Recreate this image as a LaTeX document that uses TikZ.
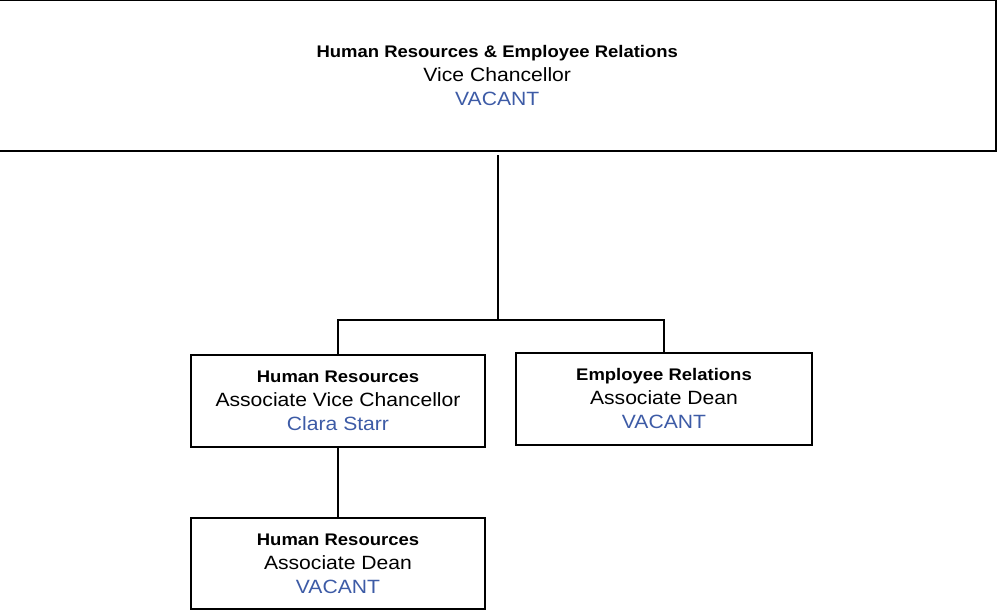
\documentclass[tikz,border=0pt]{standalone}
\usepackage{fontspec}
\setmainfont{Liberation Sans}[FakeStretch=1.1]
\definecolor{namecol}{RGB}{61,91,166}
\newcommand{\unittitle}[1]{{\bfseries\fontsize{16.8}{24}\selectfont #1}}
\newcommand{\holder}[1]{\textcolor{namecol}{#1}}
\begin{document}
\begin{tikzpicture}[x=1pt,y=-1pt,
  unitbox/.style={draw=black, line width=2pt, rectangle, align=center,
    inner sep=0pt, font=\fontsize{19.2}{24}\selectfont},
  link/.style={draw=black, line width=2pt}]
\useasboundingbox (0,0) rectangle (997,611);

% Offices
\node[unitbox, minimum width=996.5pt, minimum height=151.5pt] (vc) at (497.25,75.5)
  {\unittitle{Human Resources \& Employee Relations}\\Vice Chancellor\\\holder{VACANT}};
\node[unitbox, minimum width=294pt, minimum height=92pt] (hr) at (338,401)
  {\unittitle{Human Resources}\\Associate Vice Chancellor\\\holder{Clara Starr}};
\node[unitbox, minimum width=296pt, minimum height=92pt] (er) at (664,399)
  {\unittitle{Employee Relations}\\Associate Dean\\\holder{VACANT}};
\node[unitbox, minimum width=294pt, minimum height=91pt] (hrd) at (338,563.5)
  {\unittitle{Human Resources}\\Associate Dean\\\holder{VACANT}};

% Reporting lines
\coordinate (bar) at (498,320);
\draw[link, shorten <=3pt] (vc.south -| bar) -- (bar);
\draw[link] (hr.north) |- (bar) -| (er.north);
\draw[link] (hr.south) -- (hrd.north);
\end{tikzpicture}
\end{document}
